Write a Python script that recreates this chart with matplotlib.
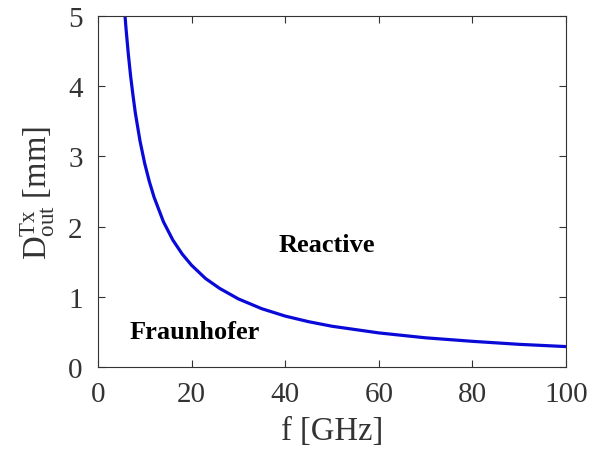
import numpy as np
import matplotlib
matplotlib.use('Agg')
import matplotlib.pyplot as plt

plt.rcParams['font.family'] = ['Liberation Serif', 'DejaVu Serif']
plt.rcParams['mathtext.fontset'] = 'custom'
plt.rcParams['mathtext.rm'] = 'Liberation Serif'
plt.rcParams['mathtext.it'] = 'Liberation Serif:italic'

# frequency [GHz] and outer diameter boundary [mm]
f_ghz = [5.8, 6, 6.5, 7, 7.5, 8, 9, 10, 11, 12, 14, 16, 18, 20, 23, 26,
         30, 35, 40, 45, 50, 60, 70, 80, 90, 100]
d_out = [5.0, 4.83, 4.46, 4.14, 3.87, 3.62, 3.22, 2.9, 2.64, 2.42, 2.07, 1.81,
         1.61, 1.45, 1.26, 1.12, 0.97, 0.83, 0.725, 0.645, 0.58, 0.485, 0.415,
         0.365, 0.322, 0.29]

fig = plt.figure(figsize=(6.08, 4.52), dpi=100)
ax = fig.add_axes([0.161, 0.186, 0.77, 0.776])
ax.plot(f_ghz, d_out, color='#0a0ad8', lw=2.3)

ax.set_xlim(0, 100)
ax.set_ylim(0, 5)
ax.set_xticks([0, 20, 40, 60, 80, 100])
ax.set_yticks([0, 1, 2, 3, 4, 5])
ax.tick_params(direction='in', top=True, right=True, labelsize=21,
               length=5, width=0.8, color='#333333', labelcolor='#333333')
ax.tick_params(axis='x', pad=10)
ax.tick_params(axis='y', pad=11)
for s in ax.spines.values():
    s.set_color('#333333')
    s.set_linewidth(0.8)

ax.set_xlabel('f [GHz]', fontsize=23.5, color='#333333', labelpad=6)
ax.set_ylabel(r'$\mathrm{D}_{\mathrm{out}}^{\mathrm{Tx}}$ [mm]', fontsize=23.5,
              color='#333333', labelpad=8)

ax.text(49, 1.75, 'Reactive', fontsize=19, fontweight='bold', ha='center', va='center')
ax.text(20.7, 0.5, 'Fraunhofer', fontsize=19, fontweight='bold', ha='center', va='center')

fig.savefig('out.png', dpi=100)
